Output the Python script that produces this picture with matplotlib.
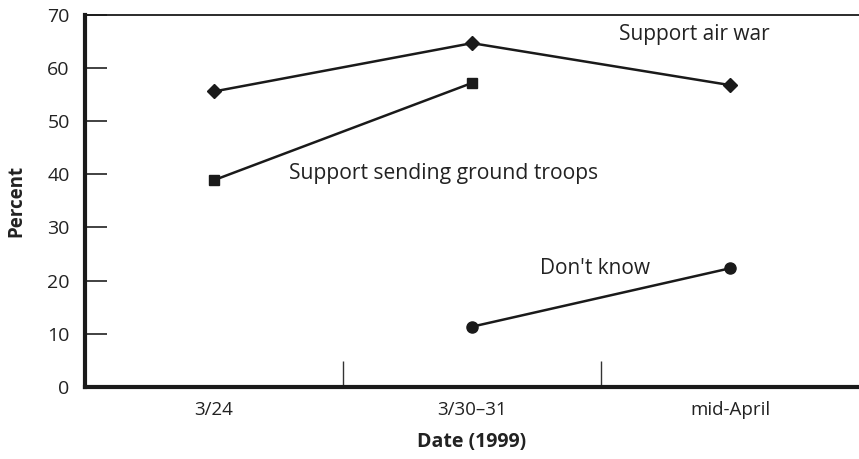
import matplotlib
matplotlib.use("Agg")
import matplotlib.pyplot as plt
import numpy as np

plt.rcParams['font.family'] = ['Open Sans', 'DejaVu Sans']

categories = ["3/24", "3/30\u201331", "mid-April"]
air_war = [55.6, 64.7, 56.8]
ground_troops = [38.9, 57.2]
dont_know = [11.3, 22.3]
y_ticks = [0, 10, 20, 30, 40, 50, 60, 70]

fig = plt.figure(figsize=(8.59, 4.59), dpi=100)
ax = fig.add_axes([85/859, (459-386.7)/459, 1-85/859, (386.7-15)/459])

x = np.arange(len(categories))
c = "#1a1a1a"
ax.plot(x, air_war, color=c, lw=1.8, marker="D", ms=7, zorder=3)
ax.plot(x[:2], ground_troops, color=c, lw=1.8, marker="s", ms=7, zorder=3)
ax.plot(x[1:], dont_know, color=c, lw=1.8, marker="o", ms=8, zorder=3)

ax.set_xlim(-0.5, 2.5)
ax.set_ylim(0, 70)

ax.spines['right'].set_visible(False)
ax.spines['left'].set_linewidth(3)
ax.spines['bottom'].set_linewidth(3)
ax.spines['top'].set_linewidth(1.3)
for s in ax.spines.values():
    s.set_color(c)

ax.set_yticks(y_ticks)
ax.set_yticklabels([str(v) for v in y_ticks], fontsize=14, color="#222222")
ax.tick_params(axis='y', direction='in', length=16, width=1.3, color="#333333", pad=11)
ax.set_xticks(x)
ax.set_xticklabels(categories, fontsize=13.5, color="#222222")
ax.tick_params(axis='x', length=0, pad=10)
ax.set_xticks([0.5, 1.5], minor=True)
ax.tick_params(axis='x', which='minor', direction='in', length=19, width=1, color="#333333")

ax.set_ylabel("Percent", fontsize=13.5, fontweight='bold', labelpad=15, color="#222222")
ax.set_xlabel("Date (1999)", fontsize=14, fontweight='bold', labelpad=10, color="#222222")

ax.text(1.57, 66.3, "Support air war", fontsize=15, color="#222222", va='center', ha='left')
ax.text(0.29, 40.1, "Support sending ground troops", fontsize=15.2, color="#222222", va='center', ha='left')
ax.text(1.265, 22.3, "Don't know", fontsize=15, color="#222222", va='center', ha='left')

fig.savefig("out.png", dpi=100)
